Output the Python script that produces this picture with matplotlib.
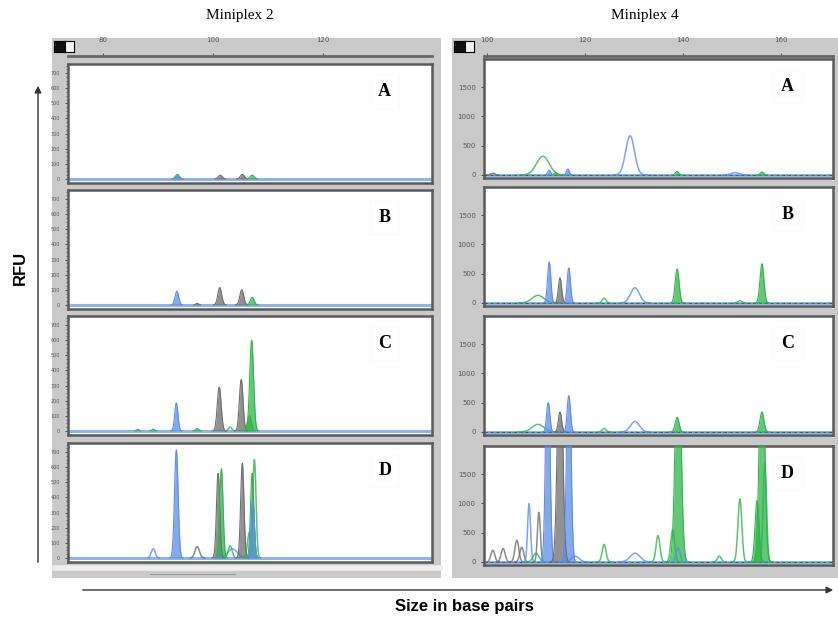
import numpy as np
import matplotlib.pyplot as plt

W, H = 838, 623

# peaks: (size bp, height RFU, width bp, dye, drawn as 'f' filled / 'o' outline)
m2_A = [(93.5, 30, 0.35, 'g', 'f'), (93.5, 20, 0.35, 'b', 'f'), (101.3, 25, 0.35, 'k', 'f'),
        (105.3, 30, 0.35, 'k', 'f'), (107.1, 25, 0.35, 'g', 'f')]
m2_B = [(93.4, 90, 0.33, 'b', 'f'), (97.1, 10, 0.25, 'k', 'f'), (101.2, 115, 0.35, 'k', 'f'),
        (105.2, 100, 0.35, 'k', 'f'), (107.1, 50, 0.35, 'g', 'f')]
m2_C = [(86.3, 10, 0.25, 'g', 'f'), (89.1, 12, 0.25, 'g', 'f'), (93.3, 185, 0.3, 'b', 'f'),
        (97.1, 15, 0.3, 'g', 'f'), (101.1, 290, 0.35, 'k', 'f'), (103.1, 25, 0.3, 'g', 'o'),
        (105.1, 340, 0.33, 'k', 'f'), (106.6, 100, 0.35, 'g', 'f'), (107.0, 600, 0.35, 'g', 'f')]
m2_D = [(89.1, 60, 0.35, 'b', 'o'), (93.3, 715, 0.33, 'b', 'f'), (97.1, 75, 0.4, 'k', 'o'),
        (100.9, 560, 0.3, 'k', 'f'), (101.5, 590, 0.3, 'g', 'f'), (103.5, 60, 0.9, 'b', 'o'),
        (103.1, 80, 0.35, 'g', 'o'), (105.3, 625, 0.3, 'k', 'f'), (106.6, 170, 0.35, 'g', 'o'),
        (107.1, 560, 0.3, 'g', 'f'), (107.5, 650, 0.3, 'g', 'o'), (107.2, 380, 0.3, 'b', 'f')]

m4_A = [(101.2, 30, 0.4, 'k', 'o'), (111.4, 320, 1.3, 'g', 'o'), (112.7, 80, 0.3, 'b', 'f'),
        (114.0, 40, 0.3, 'g', 'f'), (116.5, 100, 0.3, 'b', 'f'), (129.2, 670, 0.9, 'b', 'o'),
        (138.8, 60, 0.35, 'g', 'f'), (150.6, 40, 0.8, 'b', 'o'), (156.1, 50, 0.35, 'g', 'f')]
m4_B = [(110.4, 130, 1.2, 'g', 'o'), (112.7, 700, 0.33, 'b', 'f'), (114.9, 430, 0.33, 'k', 'f'),
        (116.7, 600, 0.33, 'b', 'f'), (123.9, 80, 0.4, 'g', 'o'), (130.2, 260, 0.9, 'b', 'o'),
        (138.8, 580, 0.4, 'g', 'f'), (151.6, 40, 0.4, 'g', 'o'), (156.1, 670, 0.4, 'g', 'f')]
m4_C = [(110.4, 130, 1.2, 'g', 'o'), (112.5, 500, 0.33, 'b', 'f'), (114.9, 340, 0.33, 'k', 'f'),
        (116.7, 620, 0.33, 'b', 'f'), (123.9, 60, 0.4, 'g', 'o'), (130.2, 180, 0.9, 'b', 'o'),
        (138.8, 250, 0.4, 'g', 'f'), (156.1, 340, 0.4, 'g', 'f')]
m4_D = [(101.2, 200, 0.4, 'k', 'o'), (103.3, 230, 0.4, 'k', 'o'), (106.1, 370, 0.4, 'k', 'o'),
        (107.1, 250, 0.4, 'k', 'o'), (108.6, 1000, 0.3, 'b', 'o'), (110.0, 150, 0.6, 'g', 'o'),
        (110.6, 850, 0.3, 'k', 'o'), (112.4, 4000, 0.4, 'b', 'f'), (114.9, 4000, 0.5, 'k', 'f'),
        (116.7, 4000, 0.4, 'b', 'f'), (118.0, 100, 0.8, 'b', 'o'), (123.9, 300, 0.4, 'g', 'o'),
        (130.2, 150, 1.0, 'b', 'o'), (134.9, 450, 0.4, 'g', 'o'), (137.9, 550, 0.4, 'g', 'o'),
        (139.0, 4000, 0.55, 'g', 'f'), (139.0, 250, 0.4, 'b', 'o'), (147.4, 100, 0.4, 'g', 'o'),
        (151.6, 1080, 0.4, 'g', 'o'), (155.1, 1050, 0.4, 'g', 'f'), (156.1, 4000, 0.5, 'g', 'f'),
        (156.7, 1700, 0.35, 'g', 'o')]

letters = ['A', 'B', 'C', 'D']
m2_ticks = [80, 100, 120]
m4_ticks = [100, 120, 140, 160]
m2_yticks = [0, 100, 200, 300, 400, 500, 600, 700]
m4_yticks = [0, 500, 1000, 1500]

dye = {'b': '#5b8ee6', 'g': '#2fb54a', 'k': '#6e6e6e'}

fig = plt.figure(figsize=(W / 100, H / 100), dpi=100)


def px_axes(x0, y0, x1, y1, **kw):
    return fig.add_axes([x0 / W, 1 - y1 / H, (x1 - x0) / W, (y1 - y0) / H], **kw)


def draw_peaks(ax, peaks, xlim):
    x = np.linspace(xlim[0], xlim[1], 3000)
    for pos, hgt, wid, d, kind in peaks:
        y = hgt * np.exp(-0.5 * ((x - pos) / wid) ** 2)
        m = y > 0.5
        if kind == 'f':
            ax.fill_between(x[m], 0, y[m], color=dye[d], alpha=0.75, lw=0, zorder=3)
            ax.plot(x[m], y[m], color=dye[d], lw=0.8, zorder=4)
        else:
            ax.plot(x[m], y[m], color=dye[d], lw=1.1, alpha=0.8, zorder=3)


def group(x0, x1, panel_x, tops, ph, xlim, ylim, ticks, yticks, data, ylab_size, minor):
    bg = px_axes(x0, 38, x1, 578)
    bg.set_facecolor('#c9c9c9')
    bg.set_xticks([]); bg.set_yticks([])
    for s in bg.spines.values():
        s.set_visible(False)
    # ruler
    ru = px_axes(panel_x[0], 40, panel_x[1], 56)
    ru.set_facecolor('#c9c9c9')
    ru.set_xlim(xlim); ru.set_ylim(0, 1)
    ru.set_yticks([])
    ru.set_xticks(ticks)
    ru.tick_params(axis='x', direction='in', length=2, labelsize=5, colors='#555555', pad=-9)
    for lab in ru.get_xticklabels():
        lab.set_va('bottom')
    for k, s in ru.spines.items():
        s.set_visible(k == 'bottom')
    ru.spines['bottom'].set_linewidth(2)
    ru.spines['bottom'].set_color('#666666')
    # icon
    ic = px_axes(x0 + 2, 41, x0 + 13, 52)
    ic.set_facecolor('#111111'); ic.set_xticks([]); ic.set_yticks([])
    ic2 = px_axes(x0 + 13, 41, x0 + 22, 52)
    ic2.set_facecolor('#f2f2f2'); ic2.set_xticks([]); ic2.set_yticks([])
    for i, peaks in enumerate(data):
        ax = px_axes(panel_x[0], tops[i], panel_x[1], tops[i] + ph)
        ax.set_facecolor('white')
        ax.set_xlim(xlim); ax.set_ylim(ylim)
        ax.axhline(0, color='#8fb3f0', lw=2.2, zorder=2)
        if minor:
            ax.axhline(0, color='#1f3f99', lw=0.6, ls=(0, (4, 3)), zorder=2)
            ax.axhline(0, color='#2fb54a', lw=0.6, ls=(2, (3, 4)), zorder=2)
        draw_peaks(ax, peaks, xlim)
        ax.set_xticks([])
        ax.set_yticks(yticks)
        ax.tick_params(axis='y', length=2, labelsize=ylab_size, colors='#555555', pad=4)
        if not minor:
            ax.set_yticks(np.arange(0, 760, 25), minor=True)
            ax.tick_params(axis='y', which='minor', length=1.2, color='#555555')
        for s in ax.spines.values():
            s.set_linewidth(1.8)
            s.set_color('#5a5a5a')
        ax.text(0.87, 0.77, letters[i], transform=ax.transAxes, fontsize=13,
                fontweight='bold', family='Liberation Serif', ha='center', va='center',
                bbox=dict(facecolor='white', edgecolor='#fbfbfb', pad=6), zorder=6)
    return bg


group(52, 441, (68, 432), [64, 190, 316, 443], 119, (73.6, 139.8), (-27, 760),
      m2_ticks, m2_yticks, [m2_A, m2_B, m2_C, m2_D], 3.5, False)
group(452, 838, (484, 833), [59, 187, 316, 446], 119, (99.4, 170.6), (-52, 1983),
      m4_ticks, m4_yticks, [m4_A, m4_B, m4_C, m4_D], 5, True)

# overlay for titles and arrows
ov = fig.add_axes([0, 0, 1, 1], facecolor='none')
ov.set_xlim(0, W); ov.set_ylim(H, 0); ov.axis('off')
ov.plot([55, 440], [568, 568], color='#eeeeee', lw=4)
ov.plot([150, 235], [574, 574], color='#999999', lw=0.8)
ov.text(240, 15, 'Miniplex 2', family='Liberation Serif', fontsize=11, ha='center', va='center')
ov.text(645, 15, 'Miniplex 4', family='Liberation Serif', fontsize=11, ha='center', va='center')
ov.annotate('', xy=(38, 83), xytext=(38, 565),
            arrowprops=dict(arrowstyle='-|>', color='#333333', lw=1, mutation_scale=10))
ov.annotate('', xy=(836, 590), xytext=(80, 590),
            arrowprops=dict(arrowstyle='-|>', color='#333333', lw=1, mutation_scale=10))
ov.text(20, 268, 'RFU', family='Liberation Sans', fontweight='bold', fontsize=12,
        rotation=90, ha='center', va='center')
ov.text(464, 607, 'Size in base pairs', family='Liberation Sans', fontweight='bold',
        fontsize=12, ha='center', va='center')

fig.savefig('out.png', dpi=100)
